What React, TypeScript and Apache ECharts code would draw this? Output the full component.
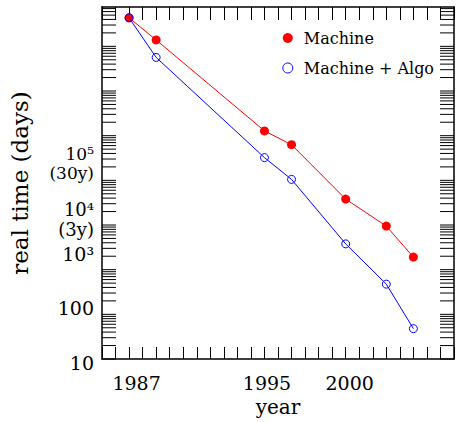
import React, { useEffect, useRef } from 'react';
import * as echarts from 'echarts';

// ---- data ----
const xPositions = [0, 2, 10, 12, 16, 19, 21];
const machineDays = [4.35e8, 1.39e8, 1.28e6, 6.27e5, 3.8e4, 9.45e3, 1.91e3];
const machineAlgoDays = [4.35e8, 5.65e7, 3.23e5, 1.05e5, 3.78e3, 474, 47.8];

const yearTickAt = [0, 10, 16];
const yearTickLabels = ['1987', '1995', '2000'];

const decadeExponents = [1, 2, 3, 4, 5];
const decadeLabels = ['10', '100', '10³', '10⁴', '10⁵'];
const decadeNotes = ['', '', '', '(3y)', '(30y)'];

const tickDecades = [1, 2, 3, 4, 5, 6, 7, 8];
const minorMultipliers = [1, 2, 3, 4, 5, 6, 7, 8, 9];

const seriesNames = ['Machine', 'Machine + Algo'];

const X_MIN = -2;
const X_MAX = 24;
const Y_MIN = 10;
const Y_MAX = 7.6e8;

const FONT = 'DejaVu Serif';

export default function App() {
  const ref = useRef<HTMLDivElement>(null);

  useEffect(() => {
    if (!ref.current) return;
    const chart = echarts.init(ref.current, undefined, { renderer: 'svg' });

    const tickData: number[][] = [];
    tickDecades.forEach((e) => {
      minorMultipliers.forEach((m) => {
        const v = m * Math.pow(10, e);
        if (v <= Y_MAX) tickData.push([X_MIN, v]);
      });
    });

    // per-label layout (spacer lines shift labels as in the reference)
    const yLabelLayout: Record<number, (l: string, n: string) => string> = {
      1: (l) => `{s8| }\n{t|${l}}`,
      2: (l) => `{t|${l}}\n{s12| }`,
      3: (l) => `{t|${l}}\n{s31| }`,
      4: (l, n) => `{u|${l}}\n{u|${n}}\n{s12| }`,
      5: (l, n) => `{v|${l}}\n{v|${n}}\n{s34| }`,
    };

    const xPad = [15, 5, 8];
    const legendText = { fontFamily: FONT, fontSize: 16, color: '#000', lineHeight: 20 };

    const option: any = {
      animation: false,
      backgroundColor: '#fff',
      grid: { left: 102, top: 7, width: 356, height: 356 },
      legend: {
        orient: 'vertical',
        left: 282.3,
        top: 28,
        padding: 0,
        itemWidth: 10,
        itemHeight: 10,
        itemGap: 10,
        icon: 'circle',
        textStyle: {
          ...legendText,
          rich: { n: { ...legendText, padding: [0, 0, 0, 6] } },
        },
        formatter: (name: string) => `{n|${name}}`,
        data: [
          { name: seriesNames[0], itemStyle: { color: '#ff0000' } },
          {
            name: seriesNames[1],
            itemStyle: { color: 'rgba(0,0,0,0)', borderColor: '#0000ff', borderWidth: 1 },
          },
        ],
      },
      xAxis: [
        {
          type: 'value',
          position: 'bottom',
          min: X_MIN,
          max: X_MAX,
          interval: 1,
          name: 'year',
          nameLocation: 'middle',
          nameGap: 38,
          nameTextStyle: { fontFamily: FONT, fontSize: 20, color: '#000' },
          axisLine: { onZero: false, lineStyle: { color: '#000', width: 1.5 } },
          axisTick: { inside: true, length: 12, lineStyle: { color: '#000', width: 1 } },
          splitLine: { show: false },
          axisLabel: {
            margin: 14,
            color: '#000',
            fontFamily: FONT,
            fontSize: 19,
            formatter: (val: number) => {
              const r = Math.round(val);
              if (Math.abs(val - r) > 1e-6) return '';
              const i = yearTickAt.indexOf(r);
              if (i < 0) return '';
              return `{y${i}|${yearTickLabels[i]}}`;
            },
            rich: {
              y0: { fontFamily: FONT, fontSize: 19, color: '#000', padding: [0, 0, 0, xPad[0]] },
              y1: { fontFamily: FONT, fontSize: 19, color: '#000', padding: [0, 0, 0, xPad[1]] },
              y2: { fontFamily: FONT, fontSize: 19, color: '#000', padding: [0, 0, 0, xPad[2]] },
            },
          },
        },
        {
          type: 'value',
          position: 'top',
          min: X_MIN,
          max: X_MAX,
          interval: 1,
          axisLine: { onZero: false, lineStyle: { color: '#000', width: 1.5 } },
          axisTick: { inside: true, length: 13, lineStyle: { color: '#000', width: 1 } },
          axisLabel: { show: false },
          splitLine: { show: false },
        },
      ],
      yAxis: [
        {
          type: 'log',
          logBase: 10,
          min: Y_MIN,
          max: Y_MAX,
          name: 'real time (days)',
          nameLocation: 'middle',
          nameRotate: 90,
          nameGap: 71,
          nameTextStyle: { fontFamily: FONT, fontSize: 23, color: '#000' },
          axisLine: { onZero: false, lineStyle: { color: '#000', width: 1.5 } },
          axisTick: { show: false },
          splitLine: { show: false },
          minorTick: { show: false },
          axisLabel: {
            margin: 8,
            color: '#000',
            fontFamily: FONT,
            fontSize: 19,
            showMaxLabel: false,
            formatter: (val: number) => {
              const e = Math.round(Math.log10(val));
              if (Math.abs(Math.log10(val) - e) > 1e-6) return '';
              const i = decadeExponents.indexOf(e);
              if (i < 0) return '';
              return yLabelLayout[e](decadeLabels[i], decadeNotes[i]);
            },
            rich: {
              t: { fontFamily: FONT, fontSize: 19, color: '#000', lineHeight: 16, align: 'right' },
              u: { fontFamily: FONT, fontSize: 18, color: '#000', lineHeight: 20, align: 'right' },
              v: { fontFamily: FONT, fontSize: 17, color: '#000', lineHeight: 19, align: 'right' },
              s8: { lineHeight: 8, fontSize: 8 },
              s12: { lineHeight: 12, fontSize: 8 },
              s31: { lineHeight: 31, fontSize: 8 },
              s34: { lineHeight: 34, fontSize: 8 },
            },
          },
        },
        {
          type: 'log',
          logBase: 10,
          min: Y_MIN,
          max: Y_MAX,
          position: 'right',
          axisLine: { show: true, onZero: false, lineStyle: { color: '#000', width: 1.5 } },
          axisTick: { show: false },
          axisLabel: { show: false },
          splitLine: { show: false },
        },
      ],
      series: [
        {
          type: 'custom',
          silent: true,
          xAxisIndex: 0,
          yAxisIndex: 0,
          data: tickData,
          renderItem: (params: any, api: any) => {
            const v = api.value(1);
            const p = api.coord([X_MIN, v]);
            const cs = params.coordSys;
            const y = p[1];
            return {
              type: 'group',
              children: [
                {
                  type: 'line',
                  shape: { x1: cs.x, y1: y, x2: cs.x + 14, y2: y },
                  style: { stroke: '#000', lineWidth: 1 },
                },
                {
                  type: 'line',
                  shape: { x1: cs.x + cs.width - 14, y1: y, x2: cs.x + cs.width, y2: y },
                  style: { stroke: '#000', lineWidth: 1 },
                },
              ],
            };
          },
        },
        {
          name: seriesNames[0],
          type: 'line',
          xAxisIndex: 0,
          yAxisIndex: 0,
          data: xPositions.map((x, i) => [x, machineDays[i]]),
          symbol: 'circle',
          symbolSize: 9,
          lineStyle: { color: '#ff0000', width: 1 },
          itemStyle: { color: '#ff0000' },
          z: 3,
        },
        {
          name: seriesNames[1],
          type: 'line',
          xAxisIndex: 0,
          yAxisIndex: 0,
          data: xPositions.map((x, i) => [x, machineAlgoDays[i]]),
          symbol: 'circle',
          symbolSize: 8,
          lineStyle: { color: '#0000ff', width: 1 },
          itemStyle: { color: 'rgba(0,0,0,0)', borderColor: '#0000ff', borderWidth: 1 },
          z: 4,
        },
      ],
    };

    chart.setOption(option);
    return () => chart.dispose();
  }, []);

  return (
    <div
      ref={ref}
      style={{ position: 'fixed', left: 0, top: 0, width: 457, height: 422, background: '#fff' }}
    />
  );
}
